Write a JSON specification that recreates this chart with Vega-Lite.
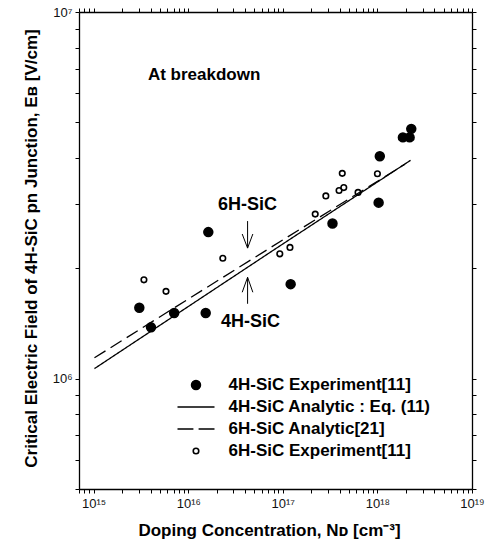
{
  "$schema": "https://vega.github.io/schema/vega-lite/v6.json",
  "width": 393,
  "height": 477,
  "autosize": {"type": "none"},
  "padding": {"left": 79, "top": 12, "right": 21, "bottom": 61},
  "background": "white",
  "config": {
    "view": {"stroke": null},
    "font": "Liberation Sans",
    "legend": {"symbolStrokeColor": "black", "symbolStrokeWidth": 1.6}
  },
  "datasets": {
    "pts": [
      {"series": "4H-SiC Experiment[11]", "N": 3.04e15, "E": 1.56e6},
      {"series": "4H-SiC Experiment[11]", "N": 4.04e15, "E": 1.38e6},
      {"series": "4H-SiC Experiment[11]", "N": 7.1e15, "E": 1.51e6},
      {"series": "4H-SiC Experiment[11]", "N": 1.53e16, "E": 1.51e6},
      {"series": "4H-SiC Experiment[11]", "N": 1.63e16, "E": 2.51e6},
      {"series": "4H-SiC Experiment[11]", "N": 1.21e17, "E": 1.81e6},
      {"series": "4H-SiC Experiment[11]", "N": 3.35e17, "E": 2.65e6},
      {"series": "4H-SiC Experiment[11]", "N": 1.03e18, "E": 3.02e6},
      {"series": "4H-SiC Experiment[11]", "N": 1.06e18, "E": 4.04e6},
      {"series": "4H-SiC Experiment[11]", "N": 1.86e18, "E": 4.55e6},
      {"series": "4H-SiC Experiment[11]", "N": 2.19e18, "E": 4.55e6},
      {"series": "4H-SiC Experiment[11]", "N": 2.28e18, "E": 4.8e6},
      {"series": "6H-SiC Experiment[11]", "N": 3.4e15, "E": 1.86e6},
      {"series": "6H-SiC Experiment[11]", "N": 5.82e15, "E": 1.73e6},
      {"series": "6H-SiC Experiment[11]", "N": 2.32e16, "E": 2.13e6},
      {"series": "6H-SiC Experiment[11]", "N": 9.29e16, "E": 2.19e6},
      {"series": "6H-SiC Experiment[11]", "N": 1.19e17, "E": 2.28e6},
      {"series": "6H-SiC Experiment[11]", "N": 2.2e17, "E": 2.81e6},
      {"series": "6H-SiC Experiment[11]", "N": 2.85e17, "E": 3.15e6},
      {"series": "6H-SiC Experiment[11]", "N": 3.93e17, "E": 3.26e6},
      {"series": "6H-SiC Experiment[11]", "N": 4.41e17, "E": 3.32e6},
      {"series": "6H-SiC Experiment[11]", "N": 4.25e17, "E": 3.63e6},
      {"series": "6H-SiC Experiment[11]", "N": 6.24e17, "E": 3.22e6},
      {"series": "6H-SiC Experiment[11]", "N": 1.0e18, "E": 3.62e6}
    ],
    "lines": [
      {"series": "4H-SiC Analytic : Eq. (11)", "N": 1.02e15, "E": 1.065e6},
      {"series": "4H-SiC Analytic : Eq. (11)", "N": 1e17, "E": 2.33e6},
      {"series": "4H-SiC Analytic : Eq. (11)", "N": 2.24e18, "E": 3.94e6},
      {"series": "6H-SiC Analytic[21]", "N": 1.02e15, "E": 1.14e6},
      {"series": "6H-SiC Analytic[21]", "N": 1e17, "E": 2.39e6},
      {"series": "6H-SiC Analytic[21]", "N": 1.94e18, "E": 3.84e6}
    ],
    "shafts": [
      {"N": 4.24e16, "E1": 2.69e6, "E2": 2.27e6},
      {"N": 4.24e16, "E1": 1.89e6, "E2": 1.6e6}
    ],
    "heads": [
      {"g": "d", "o": 1, "N": 3.72e16, "E": 2.48e6},
      {"g": "d", "o": 2, "N": 4.24e16, "E": 2.27e6},
      {"g": "d", "o": 3, "N": 4.82e16, "E": 2.48e6},
      {"g": "u", "o": 1, "N": 3.72e16, "E": 1.72e6},
      {"g": "u", "o": 2, "N": 4.24e16, "E": 1.89e6},
      {"g": "u", "o": 3, "N": 4.82e16, "E": 1.72e6}
    ],
    "notes": [
      {"t": "6H-SiC", "N": 4.24e16, "E": 2.88e6},
      {"t": "4H-SiC", "N": 4.54e16, "E": 1.387e6}
    ],
    "notesLeft": [
      {"t": "At breakdown", "N": 3.75e15, "E": 6.53e6}
    ]
  },
  "layer": [
    {
      "data": {"name": "pts"},
      "mark": {"type": "point", "size": 1369, "stroke": "black", "strokeWidth": 1.6, "opacity": 1},
      "encoding": {
        "x": {
          "field": "N", "type": "quantitative",
          "scale": {"type": "log", "domain": [7e14, 1e19], "nice": false},
          "axis": {
            "orient": "bottom",
            "values": [7e14, 8e14, 9e14, 1e15, 2e15, 3e15, 4e15, 5e15, 6e15, 7e15, 8e15, 9e15, 1e16, 2e16, 3e16, 4e16, 5e16, 6e16, 7e16, 8e16, 9e16, 1e17, 2e17, 3e17, 4e17, 5e17, 6e17, 7e17, 8e17, 9e17, 1e18, 2e18, 3e18, 4e18, 5e18, 6e18, 7e18, 8e18, 9e18, 1e19],
            "labelExpr": "datum.value == 1e15 ? '10¹⁵' : datum.value == 1e16 ? '10¹⁶' : datum.value == 1e17 ? '10¹⁷' : datum.value == 1e18 ? '10¹⁸' : datum.value == 1e19 ? '10¹⁹' : ''",
            "tickSize": 4,
            "tickColor": "black",
            "domainColor": "black", "domainWidth": 1.3,
            "grid": false,
            "labelFont": "Liberation Sans", "labelFontSize": 13, "labelColor": "#111",
            "labelPadding": 4, "labelFlush": false, "labelOverlap": false,
            "title": "Doping Concentration, Nᴅ [cm⁻³]",
            "titleFont": "Liberation Sans", "titleFontSize": 17, "titleFontWeight": "bold", "titleColor": "black",
            "titleX": 190, "titleY": 46, "titleBaseline": "alphabetic", "titleAnchor": "middle"
          }
        },
        "y": {
          "field": "E", "type": "quantitative",
          "scale": {"type": "log", "domain": [5e5, 1e7], "nice": false},
          "axis": {
            "orient": "left",
            "values": [5e5, 6e5, 7e5, 8e5, 9e5, 1e6, 2e6, 3e6, 4e6, 5e6, 6e6, 7e6, 8e6, 9e6, 1e7],
            "labelExpr": "datum.value == 1e6 ? '10⁶' : datum.value == 1e7 ? '10⁷' : ''",
            "tickSize": 4,
            "tickColor": "black",
            "domainColor": "black", "domainWidth": 1.3,
            "grid": false,
            "labelFont": "Liberation Sans", "labelFontSize": 13, "labelColor": "#111",
            "labelPadding": 3, "labelFlush": false, "labelOverlap": false,
            "title": "Critical Electric Field of 4H-SiC pn Junction, Eʙ [V/cm]",
            "titleFont": "Liberation Sans", "titleFontSize": 17, "titleFontWeight": "bold", "titleColor": "black",
            "titleX": -43, "titleY": 236, "titleBaseline": "alphabetic", "titleAngle": -90, "titleAnchor": "middle"
          }
        },
        "shape": {
          "field": "series", "type": "nominal",
          "scale": {
            "domain": ["4H-SiC Experiment[11]", "4H-SiC Analytic : Eq. (11)", "6H-SiC Analytic[21]", "6H-SiC Experiment[11]"],
            "range": ["M-0.24,0A0.24,0.24 0 1,0 0.24,0A0.24,0.24 0 1,0 -0.24,0Z", "M-1,0L1,0", "M-1,0L-0.14,0M0.14,0L1,0", "M-0.15,0A0.15,0.15 0 1,0 0.15,0A0.15,0.15 0 1,0 -0.15,0Z"]
          },
          "legend": {
            "title": null, "orient": "none", "legendX": 97.5, "legendY": 362, "padding": 0,
            "symbolSize": 1369, "symbolStrokeWidth": 1.6, "symbolStrokeColor": "black",
            "labelFont": "Liberation Sans", "labelFontSize": 17, "labelFontWeight": "bold", "labelColor": "black",
            "labelOffset": 13, "clipHeight": 22, "rowPadding": 0, "labelLimit": 400
          }
        },
        "fill": {
          "field": "series", "type": "nominal",
          "scale": {
            "domain": ["4H-SiC Experiment[11]", "4H-SiC Analytic : Eq. (11)", "6H-SiC Analytic[21]", "6H-SiC Experiment[11]"],
            "range": ["black", "white", "white", "white"]
          },
          "legend": {
            "title": null, "orient": "none", "legendX": 97.5, "legendY": 362, "padding": 0,
            "symbolSize": 1369, "symbolStrokeWidth": 1.6, "symbolStrokeColor": "black",
            "labelFont": "Liberation Sans", "labelFontSize": 17, "labelFontWeight": "bold", "labelColor": "black",
            "labelOffset": 13, "clipHeight": 22, "rowPadding": 0, "labelLimit": 400
          }
        },
        "stroke": {
          "field": "series", "type": "nominal",
          "scale": {
            "domain": ["4H-SiC Experiment[11]", "4H-SiC Analytic : Eq. (11)", "6H-SiC Analytic[21]", "6H-SiC Experiment[11]"],
            "range": ["black", "black", "black", "black"]
          },
          "legend": {
            "title": null, "orient": "none", "legendX": 97.5, "legendY": 362, "padding": 0,
            "symbolSize": 1369, "symbolStrokeWidth": 1.6,
            "labelFont": "Liberation Sans", "labelFontSize": 17, "labelFontWeight": "bold", "labelColor": "black",
            "labelOffset": 13, "clipHeight": 22, "rowPadding": 0, "labelLimit": 400
          }
        }
      }
    },
    {
      "data": {"name": "lines"},
      "mark": {"type": "line", "stroke": "black", "strokeWidth": 1.3},
      "encoding": {
        "x": {"field": "N", "type": "quantitative",
          "axis": {"orient": "top", "values": [7e14, 8e14, 9e14, 1e15, 2e15, 3e15, 4e15, 5e15, 6e15, 7e15, 8e15, 9e15, 1e16, 2e16, 3e16, 4e16, 5e16, 6e16, 7e16, 8e16, 9e16, 1e17, 2e17, 3e17, 4e17, 5e17, 6e17, 7e17, 8e17, 9e17, 1e18, 2e18, 3e18, 4e18, 5e18, 6e18, 7e18, 8e18, 9e18, 1e19],
            "labels": false, "title": null, "grid": false,
            "tickSize": 4, "tickColor": "black", "domainColor": "black", "domainWidth": 1.3}},
        "y": {"field": "E", "type": "quantitative",
          "axis": {"orient": "right", "values": [5e5, 6e5, 7e5, 8e5, 9e5, 1e6, 2e6, 3e6, 4e6, 5e6, 6e6, 7e6, 8e6, 9e6, 1e7],
            "labels": false, "title": null, "grid": false,
            "tickSize": 4, "tickColor": "black", "domainColor": "black", "domainWidth": 1.3}},
        "strokeDash": {"field": "series", "type": "nominal",
          "scale": {"domain": ["4H-SiC Analytic : Eq. (11)", "6H-SiC Analytic[21]"], "range": [[1, 0], [13, 6]]},
          "legend": null}
      }
    },
    {
      "data": {"name": "shafts"},
      "mark": {"type": "rule", "stroke": "black", "strokeWidth": 1},
      "encoding": {
        "x": {"field": "N", "type": "quantitative", "axis": null},
        "y": {"field": "E1", "type": "quantitative", "axis": null},
        "y2": {"field": "E2"}
      }
    },
    {
      "data": {"name": "heads"},
      "mark": {"type": "line", "stroke": "black", "strokeWidth": 1},
      "encoding": {
        "x": {"field": "N", "type": "quantitative", "axis": null},
        "y": {"field": "E", "type": "quantitative", "axis": null},
        "detail": {"field": "g", "type": "nominal"},
        "order": {"field": "o", "type": "quantitative"}
      }
    },
    {
      "data": {"name": "notes"},
      "mark": {"type": "text", "font": "Liberation Sans", "fontSize": 18, "fontWeight": "bold", "color": "black", "baseline": "alphabetic", "align": "center"},
      "encoding": {
        "x": {"field": "N", "type": "quantitative", "axis": null},
        "y": {"field": "E", "type": "quantitative", "axis": null},
        "text": {"field": "t"}
      }
    },
    {
      "data": {"name": "notesLeft"},
      "mark": {"type": "text", "font": "Liberation Sans", "fontSize": 17, "fontWeight": "bold", "color": "black", "baseline": "alphabetic", "align": "left"},
      "encoding": {
        "x": {"field": "N", "type": "quantitative", "axis": null},
        "y": {"field": "E", "type": "quantitative", "axis": null},
        "text": {"field": "t"}
      }
    }
  ],
  "resolve": {"axis": {"x": "independent", "y": "independent"}}
}
